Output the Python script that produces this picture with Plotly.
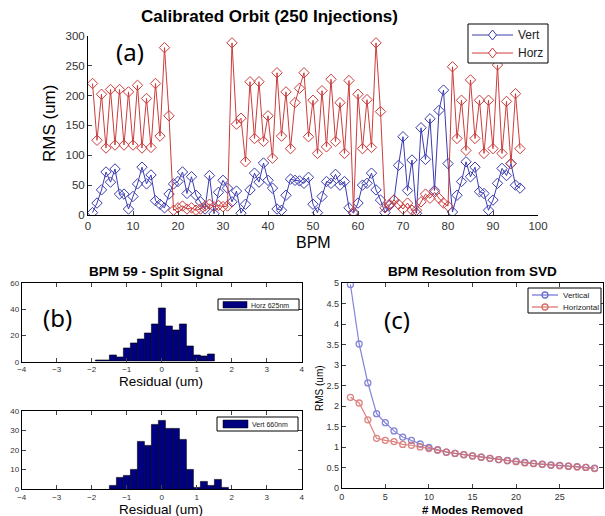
import plotly.graph_objects as go

# ---------------- data ----------------
bpm = list(range(1, 97))
vert_rms = [4, 20, 42, 72, 55, 77, 35, 35, 10, 31, 52, 80, 52, 67, 24, 18, 12, 35, 52, 56,
            72, 36, 64, 33, 22, 10, 66, 2, 38, 58, 45, 22, 40, 3, 18, 42, 70, 55, 87, 58,
            45, 10, 8, 33, 60, 58, 57, 53, 63, 18, 4, 31, 56, 53, 68, 50, 56, 12, 3, 20,
            50, 53, 70, 42, 25, 4, 16, 25, 83, 131, 41, 92, 3, 146, 93, 161, 41, 175, 209, 86,
            5, 33, 56, 89, 64, 80, 39, 36, 8, 25, 53, 78, 66, 86, 50, 45]
horz_rms = [220, 125, 202, 112, 210, 117, 210, 117, 206, 117, 217, 112, 195, 113, 220, 132, 280, 166, 8, 12,
            15, 10, 12, 8, 10, 15, 18, 14, 16, 14, 15, 288, 152, 162, 89, 223, 128, 223, 123, 166,
            95, 238, 132, 206, 111, 188, 212, 238, 131, 192, 103, 208, 114, 227, 123, 188, 103, 225, 5, 202,
            111, 193, 113, 288, 173, 12, 18, 25, 18, 10, 20, 8, 8, 22, 35, 28, 38, 28, 20, 15,
            248, 128, 192, 108, 226, 128, 192, 103, 192, 111, 251, 103, 190, 86, 203, 111]

bin_width = 0.2
horz_bin_centers = [-1.8 + 0.2 * i for i in range(17)]
horz_counts = [1, 1, 5, 3, 10, 14, 17, 22, 29, 41, 27, 24, 29, 12, 5, 4, 6]
vert_bin_centers = [-1.4 + 0.2 * i for i in range(17)]
vert_counts = [2, 6, 7, 10, 24, 22, 33, 35, 31, 31, 25, 10, 1, 4, 2, 5, 1]

modes = list(range(1, 30))
svd_vertical = [4.97, 3.52, 2.57, 1.82, 1.60, 1.40, 1.25, 1.17, 1.08, 1.00, 0.94, 0.88, 0.85, 0.82, 0.79,
                0.76, 0.73, 0.70, 0.68, 0.66, 0.63, 0.61, 0.59, 0.57, 0.56, 0.54, 0.53, 0.51, 0.49]
svd_horizontal = [2.22, 2.08, 1.67, 1.22, 1.17, 1.14, 1.07, 1.05, 1.01, 0.97, 0.93, 0.88, 0.85, 0.82, 0.79,
                  0.76, 0.73, 0.70, 0.67, 0.65, 0.62, 0.60, 0.58, 0.56, 0.55, 0.54, 0.52, 0.51, 0.48]

# ---------------- figure ----------------
W, H = 605, 516
def px(x):
    return x / W
def py(y):
    return 1 - y / H

BLUE = "#3b3bb0"
RED = "#cc3c3c"
NAVY = "#000080"
CV = "#6e6ed2"
CH = "#d86e6a"
FONT = "Liberation Sans, Arial, sans-serif"

fig = go.Figure()

fig.add_trace(go.Scatter(x=bpm, y=vert_rms, mode="lines+markers", name="Vert",
                         line=dict(color=BLUE, width=1),
                         marker=dict(symbol="diamond-open", size=8, color=BLUE, line=dict(width=1)),
                         xaxis="x", yaxis="y"))
fig.add_trace(go.Scatter(x=bpm, y=horz_rms, mode="lines+markers", name="Horz",
                         line=dict(color=RED, width=1),
                         marker=dict(symbol="diamond-open", size=8, color=RED, line=dict(width=1)),
                         xaxis="x", yaxis="y"))

fig.add_trace(go.Bar(x=horz_bin_centers, y=horz_counts, width=bin_width, name="Horz 625nm",
                     marker=dict(color=NAVY, line=dict(color="black", width=0.6)),
                     xaxis="x2", yaxis="y2"))
fig.add_trace(go.Bar(x=vert_bin_centers, y=vert_counts, width=bin_width, name="Vert 660nm",
                     marker=dict(color=NAVY, line=dict(color="black", width=0.6)),
                     xaxis="x3", yaxis="y3"))

fig.add_trace(go.Scatter(x=modes, y=svd_vertical, mode="lines+markers", name="Vertical",
                         line=dict(color=CV, width=1.2),
                         marker=dict(symbol="circle-open", size=6, color=CV, line=dict(width=1.3)),
                         opacity=0.85, xaxis="x4", yaxis="y4"))
fig.add_trace(go.Scatter(x=modes, y=svd_horizontal, mode="lines+markers", name="Horizontal",
                         line=dict(color=CH, width=1.2),
                         marker=dict(symbol="circle-open", size=6, color=CH, line=dict(width=1.3)),
                         opacity=0.85, xaxis="x4", yaxis="y4"))

def ax(domain, rng, dtick, mirror, fs, anchor):
    return dict(domain=domain, range=rng, dtick=dtick, ticks="inside", ticklen=4,
                showline=True, linecolor="black", linewidth=1, mirror=mirror,
                showgrid=False, zeroline=False, anchor=anchor, automargin=False,
                tickfont=dict(size=fs, color="#333333", family=FONT))

fig.update_layout(
    width=W, height=H, margin=dict(l=0, r=0, t=0, b=0, autoexpand=False),
    paper_bgcolor="white", plot_bgcolor="white", bargap=0, showlegend=False,
    font=dict(family=FONT, color="black"),
    xaxis=ax([px(88), px(538)], [0, 100], 10, False, 11.5, "y"),
    yaxis=ax([py(215), py(35.7)], [0, 300], 50, False, 11.5, "x"),
    xaxis2=ax([px(21.7), px(301.7)], [-4, 4], 1, "ticks", 8, "y2"),
    yaxis2=ax([py(361.7), py(283.3)], [0, 60], 20, "ticks", 8, "x2"),
    xaxis3=ax([px(21.7), px(301.7)], [-4, 4], 1, "ticks", 8, "y3"),
    yaxis3=ax([py(489.3), py(410.7)], [0, 40], 10, "ticks", 8, "x3"),
    xaxis4=ax([px(341.7), px(603.3)], [0, 30], 5, "ticks", 9, "y4"),
    yaxis4=ax([py(488.3), py(283.3)], [0, 5], 0.5, "ticks", 9, "x4"),
)

def txt(x, y, s, size, bold=False, angle=0, family=FONT, anchor="center", color="black"):
    fig.add_annotation(x=px(x), y=py(y), xref="paper", yref="paper", showarrow=False,
                       text=("<b>%s</b>" % s) if bold else s, textangle=angle,
                       xanchor=anchor, yanchor="middle",
                       font=dict(size=size, family=family, color=color))

def rect(x0, y0, x1, y1, fill="white", line="black", lw=1):
    fig.add_shape(type="rect", xref="paper", yref="paper",
                  x0=px(x0), x1=px(x1), y0=py(y1), y1=py(y0),
                  fillcolor=fill, line=dict(color=line, width=lw), layer="above")

def hline(x0, x1, y, color, lw=1):
    fig.add_shape(type="line", xref="paper", yref="paper",
                  x0=px(x0), x1=px(x1), y0=py(y), y1=py(y),
                  line=dict(color=color, width=lw), layer="above")

def diamond(cx, cy, color, hw=4, hh=5):
    path = "M %f,%f L %f,%f L %f,%f L %f,%f Z" % (
        px(cx), py(cy - hh), px(cx + hw), py(cy), px(cx), py(cy + hh), px(cx - hw), py(cy))
    fig.add_shape(type="path", xref="paper", yref="paper", path=path,
                  fillcolor="white", line=dict(color=color, width=1), layer="above")

def circle(cx, cy, color, r=3):
    fig.add_shape(type="circle", xref="paper", yref="paper",
                  x0=px(cx - r), x1=px(cx + r), y0=py(cy + r), y1=py(cy - r),
                  fillcolor="rgba(255,255,255,0)", line=dict(color=color, width=1.3), layer="above")

# ---- legend (a)
rect(468, 24, 548, 63)
hline(472, 513, 35, BLUE)
diamond(492.5, 35, BLUE)
txt(516, 35, "Vert", 12, anchor="left", color="#222222")
hline(472, 513, 53, RED)
diamond(492.5, 53, RED)
txt(516, 53, "Horz", 12, anchor="left", color="#222222")

# ---- legends (b)
rect(218, 299, 299, 310)
rect(223, 301.5, 247, 308, fill=NAVY, line="black", lw=0.5)
txt(249, 305, "Horz 625nm", 7, anchor="left", color="#222222")
rect(217, 417, 298, 431)
rect(223, 420, 248, 428, fill=NAVY, line="black", lw=0.5)
txt(250, 424, "Vert 660nm", 7, anchor="left", color="#222222")

# ---- legend (c)
rect(528, 288, 601, 313)
hline(532, 558, 295, CV, 1.2)
circle(545, 295, CV)
txt(561, 295, "Vertical", 8, anchor="left", color="#222222")
hline(532, 558, 307, CH, 1.2)
circle(545, 307, CH)
txt(561, 307, "Horizontal", 8, anchor="left", color="#222222")

# ---- titles and labels
txt(269, 16, "Calibrated Orbit (250 Injections)", 17, bold=True)
txt(313, 243, "BPM", 16)
txt(50, 124, "RMS (um)", 17, angle=-90)
txt(130, 52, "(a)", 24, family="Noto Sans, sans-serif")

txt(156, 271, "BPM 59 - Split Signal", 13.5, bold=True)
txt(161, 381, "Residual (um)", 13.5)
txt(161, 509, "Residual (um)", 13.5)
txt(57, 317, "(b)", 24, family="Noto Sans, sans-serif")

txt(472, 271, "BPM Resolution from SVD", 13.5, bold=True)
txt(472, 509.5, "# Modes Removed", 11.5, bold=True)
txt(319, 388, "RMS (um)", 10, angle=-90)
txt(397, 319, "(c)", 24, family="Noto Sans, sans-serif")

fig.write_html("out.html", config={"displayModeBar": False},
               post_script="document.body.style.margin='0px';document.body.style.overflow='hidden';")
